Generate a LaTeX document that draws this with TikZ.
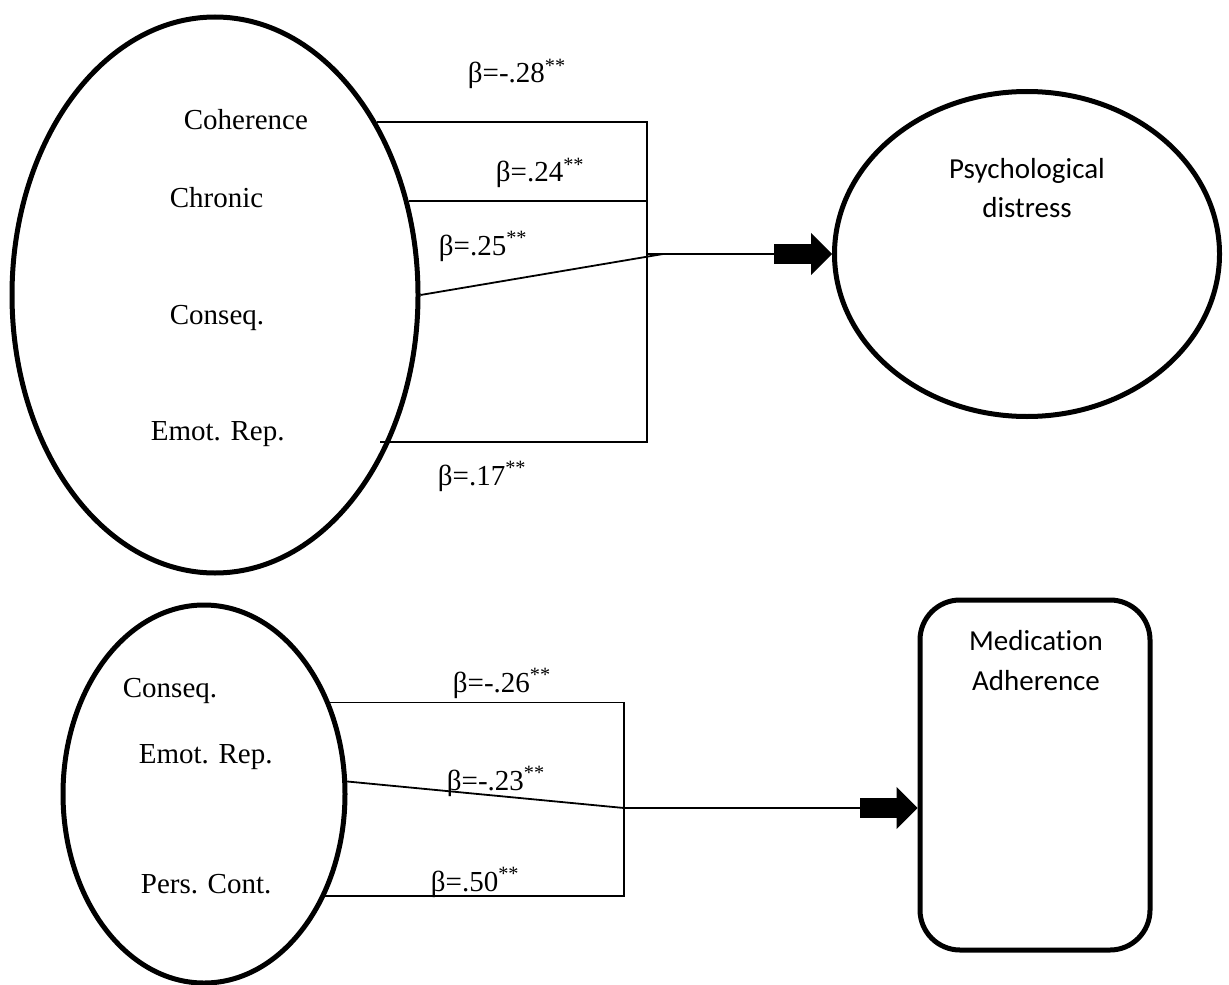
\documentclass[tikz,border=0pt]{standalone}
\usepackage{fontspec}
\setmainfont{Liberation Serif}
\newfontfamily\calibri[Ligatures=NoCommon]{Carlito}
\usetikzlibrary{arrows.meta, positioning, shapes.geometric}

\begin{document}
\begin{tikzpicture}[x=0.5pt,y=-0.5pt,line width=0.9pt,
  factor node/.style={ellipse,draw,line width=2.5pt,inner sep=0pt},
  item/.style={anchor=base west,inner sep=0pt,font=\fontsize{14.5}{20}\selectfont},
  title/.style={anchor=base,align=center,inner sep=0pt,font=\calibri\fontsize{14.5}{20}\selectfont},
  block/.style={-{Rectangle[length=18.5pt,width=10pt,sep=0pt]Triangle[length=10.5pt,width=21pt]}}]

  \useasboundingbox (0,0) rectangle (1229,984);

  % upper model
  \node[factor node,minimum width=203pt,minimum height=278pt] (ip1) at (215,295) {};
  \node[factor node,minimum width=192.5pt,minimum height=162.5pt] (pd) at (1027,254) {};
  \node[title] (pdtxt) at (1027,218) {Psychological\\distress};

  \node[item] (coh) at (183,130) {Coherence};
  \node[item] (chr) at (169,207) {Chronic};
  \node[item] (csq) at (169,324) {Conseq.};
  \node[item] (emo) at (150,440) {Emot. Rep.};

  \node[item] (b28) at (467,83) {β=-.28\textsuperscript{**}};
  \node[item] (b24) at (495,182) {β=.24\textsuperscript{**}};
  \node[item] (b25) at (438,255) {β=.25\textsuperscript{**}};
  \node[item] (b17) at (437,485) {β=.17\textsuperscript{**}};

  \coordinate (tj) at (647,254);
  \coordinate (cq) at (663,254);
  \draw (ip1.47) -| (tj);
  \draw (ip1.26) -| (tj);
  \draw ([xshift=-5pt]ip1.-40) -| (tj);
  \draw (ip1.east) -- (cq);
  \draw[block] (tj) -- (pd.west);

  % lower model
  \node[factor node,minimum width=141pt,minimum height=189pt] (ip2) at (204,794) {};
  \node[draw,line width=2.5pt,rounded corners=20pt,minimum width=115pt,minimum height=175pt] (ma) at (1035,775) {};
  \node[title] (matxt) at (1036,690) {Medication\\Adherence};

  \node[item] (csq2) at (122,697) {Conseq.};
  \node[item] (emo2) at (138,763) {Emot. Rep.};
  \node[item] (pct) at (140,893) {Pers. Cont.};

  \node[item] (b26) at (452,692) {β=-.26\textsuperscript{**}};
  \node[item] (b23) at (446,790) {β=-.23\textsuperscript{**}};
  \node[item] (b50) at (430,891) {β=.50\textsuperscript{**}};

  \coordinate (bj) at (624,808);
  \draw (ip2.36) -| (bj);
  \draw (ip2.-40) -| (bj);
  \draw (ip2.5) -- (bj);
  \draw[block] (bj) -- (bj -| ma.west);
\end{tikzpicture}
\end{document}
